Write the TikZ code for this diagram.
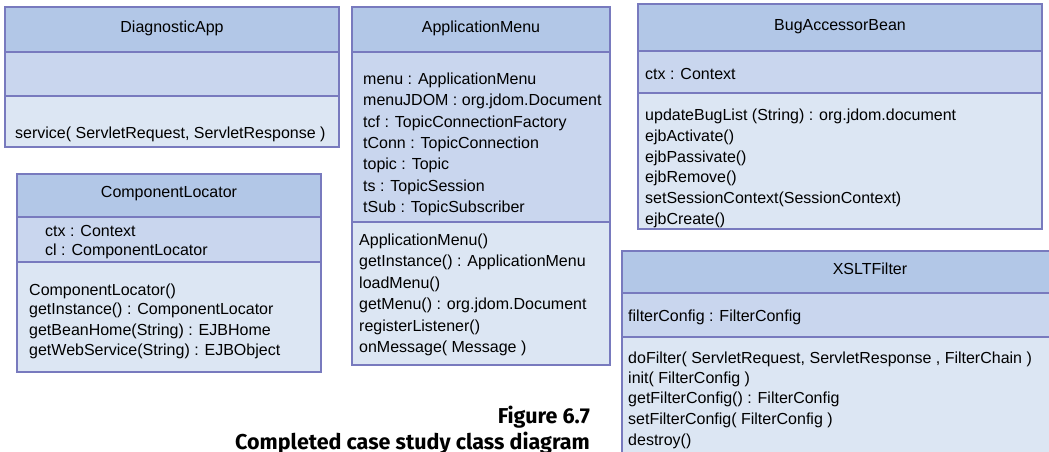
\documentclass[tikz,border=0pt]{standalone}
\usepackage{fontspec}
\setmainfont{Liberation Sans}
\newfontfamily\capfont{Fira Sans}
\definecolor{bd}{HTML}{787ABE}
\definecolor{hd}{HTML}{B2C7E7}
\definecolor{at}{HTML}{C9D6EE}
\definecolor{mt}{HTML}{DCE6F3}
\tikzset{
  comp/.style={draw=bd, line width=1.2pt},
  txt/.style={anchor=base west, inner sep=0pt, font=\fontsize{16}{19}\selectfont},
  ttl/.style={anchor=base, inner sep=0pt, font=\fontsize{16}{19}\selectfont},
  captxt/.style={anchor=base east, inner sep=0pt, font=\capfont\bfseries\fontsize{21.5}{25}\selectfont},
}
\begin{document}
\begin{tikzpicture}[x=1pt,y=-1pt]
\useasboundingbox (0,0) rectangle (1049,452);
\fill[white] (0,0) rectangle (1049,452);
\begin{scope}
\clip (0,0) rectangle (1049,452);
% DiagnosticApp
\filldraw[comp,fill=hd] (5,7) rectangle (339,52);
\filldraw[comp,fill=at] (5,52) rectangle (339,96);
\filldraw[comp,fill=mt] (5,96) rectangle (339,147);
\node[ttl] (da) at (172,32.5) {DiagnosticApp};
\node[txt] (da-m1) at (15,138.5) {service( ServletRequest, ServletResponse )};
% ComponentLocator
\filldraw[comp,fill=hd] (17,174) rectangle (321,217);
\filldraw[comp,fill=at] (17,217) rectangle (321,262);
\filldraw[comp,fill=mt] (17,262) rectangle (321,372);
\node[ttl] (cl) at (169,197.5) {ComponentLocator};
\node[txt] (cl-a1) at (45,236.5) {ctx : Context};
\node[txt] (cl-a2) at (45,255) {cl : ComponentLocator};
\node[txt] (cl-m1) at (29,295) {ComponentLocator()};
\node[txt] (cl-m2) at (29,314.5) {getInstance() : ComponentLocator};
\node[txt] (cl-m3) at (29,335.5) {getBeanHome(String) : EJBHome};
\node[txt] (cl-m4) at (29,355) {getWebService(String) : EJBObject};
% ApplicationMenu
\filldraw[comp,fill=hd] (352,7) rectangle (610,52);
\filldraw[comp,fill=at] (352,52) rectangle (610,222);
\filldraw[comp,fill=mt] (352,222) rectangle (610,365);
\node[ttl] (am) at (481,32.5) {ApplicationMenu};
\foreach \t [count=\i from 0] in {menu : ApplicationMenu, menuJDOM : org.jdom.Document, tcf : TopicConnectionFactory, tConn : TopicConnection, topic : Topic, ts : TopicSession, tSub : TopicSubscriber}
  \node[txt] (am-a\i) at (363,84.5+21.33*\i) {\t};
\foreach \t [count=\i from 0] in {ApplicationMenu(), getInstance() : ApplicationMenu, loadMenu(), getMenu() : org.jdom.Document, registerListener(), onMessage( Message )}
  \node[txt] (am-m\i) at (359,245+21.5*\i) {\t};
% BugAccessorBean
\filldraw[comp,fill=hd] (638,4) rectangle (1042,51);
\filldraw[comp,fill=at] (638,51) rectangle (1042,93);
\filldraw[comp,fill=mt] (638,93) rectangle (1042,229);
\node[ttl] (bab) at (840,30.5) {BugAccessorBean};
\node[txt] (bab-a1) at (645,79.5) {ctx : Context};
\foreach \t [count=\i from 0] in {updateBugList (String) : org.jdom.document, ejbActivate(), ejbPassivate(), ejbRemove(), setSessionContext(SessionContext), ejbCreate()}
  \node[txt] (bab-m\i) at (645,120.5+20.8*\i) {\t};
% XSLTFilter
\filldraw[comp,fill=hd] (622,251) rectangle (1118,293);
\filldraw[comp,fill=at] (622,293) rectangle (1118,337);
\filldraw[comp,fill=mt] (622,337) rectangle (1118,470);
\node[ttl] (xf) at (870,274.5) {XSLTFilter};
\node[txt] (xf-a1) at (628,321.5) {filterConfig : FilterConfig};
\node[txt] (xf-m1) at (628,363.5) {doFilter( ServletRequest, ServletResponse , FilterChain )};
\node[txt] (xf-m2) at (628,383) {init( FilterConfig )};
\node[txt] (xf-m3) at (628,403.5) {getFilterConfig() : FilterConfig};
\node[txt] (xf-m4) at (628,424.5) {setFilterConfig( FilterConfig )};
\node[txt] (xf-m5) at (628,445.5) {destroy()};
% caption
\node[captxt] (fig) at (590,423.5) {Figure 6.7};
\node[captxt] (cap) at (590,449) {Completed case study class diagram};
\end{scope}
\end{tikzpicture}
\end{document}
